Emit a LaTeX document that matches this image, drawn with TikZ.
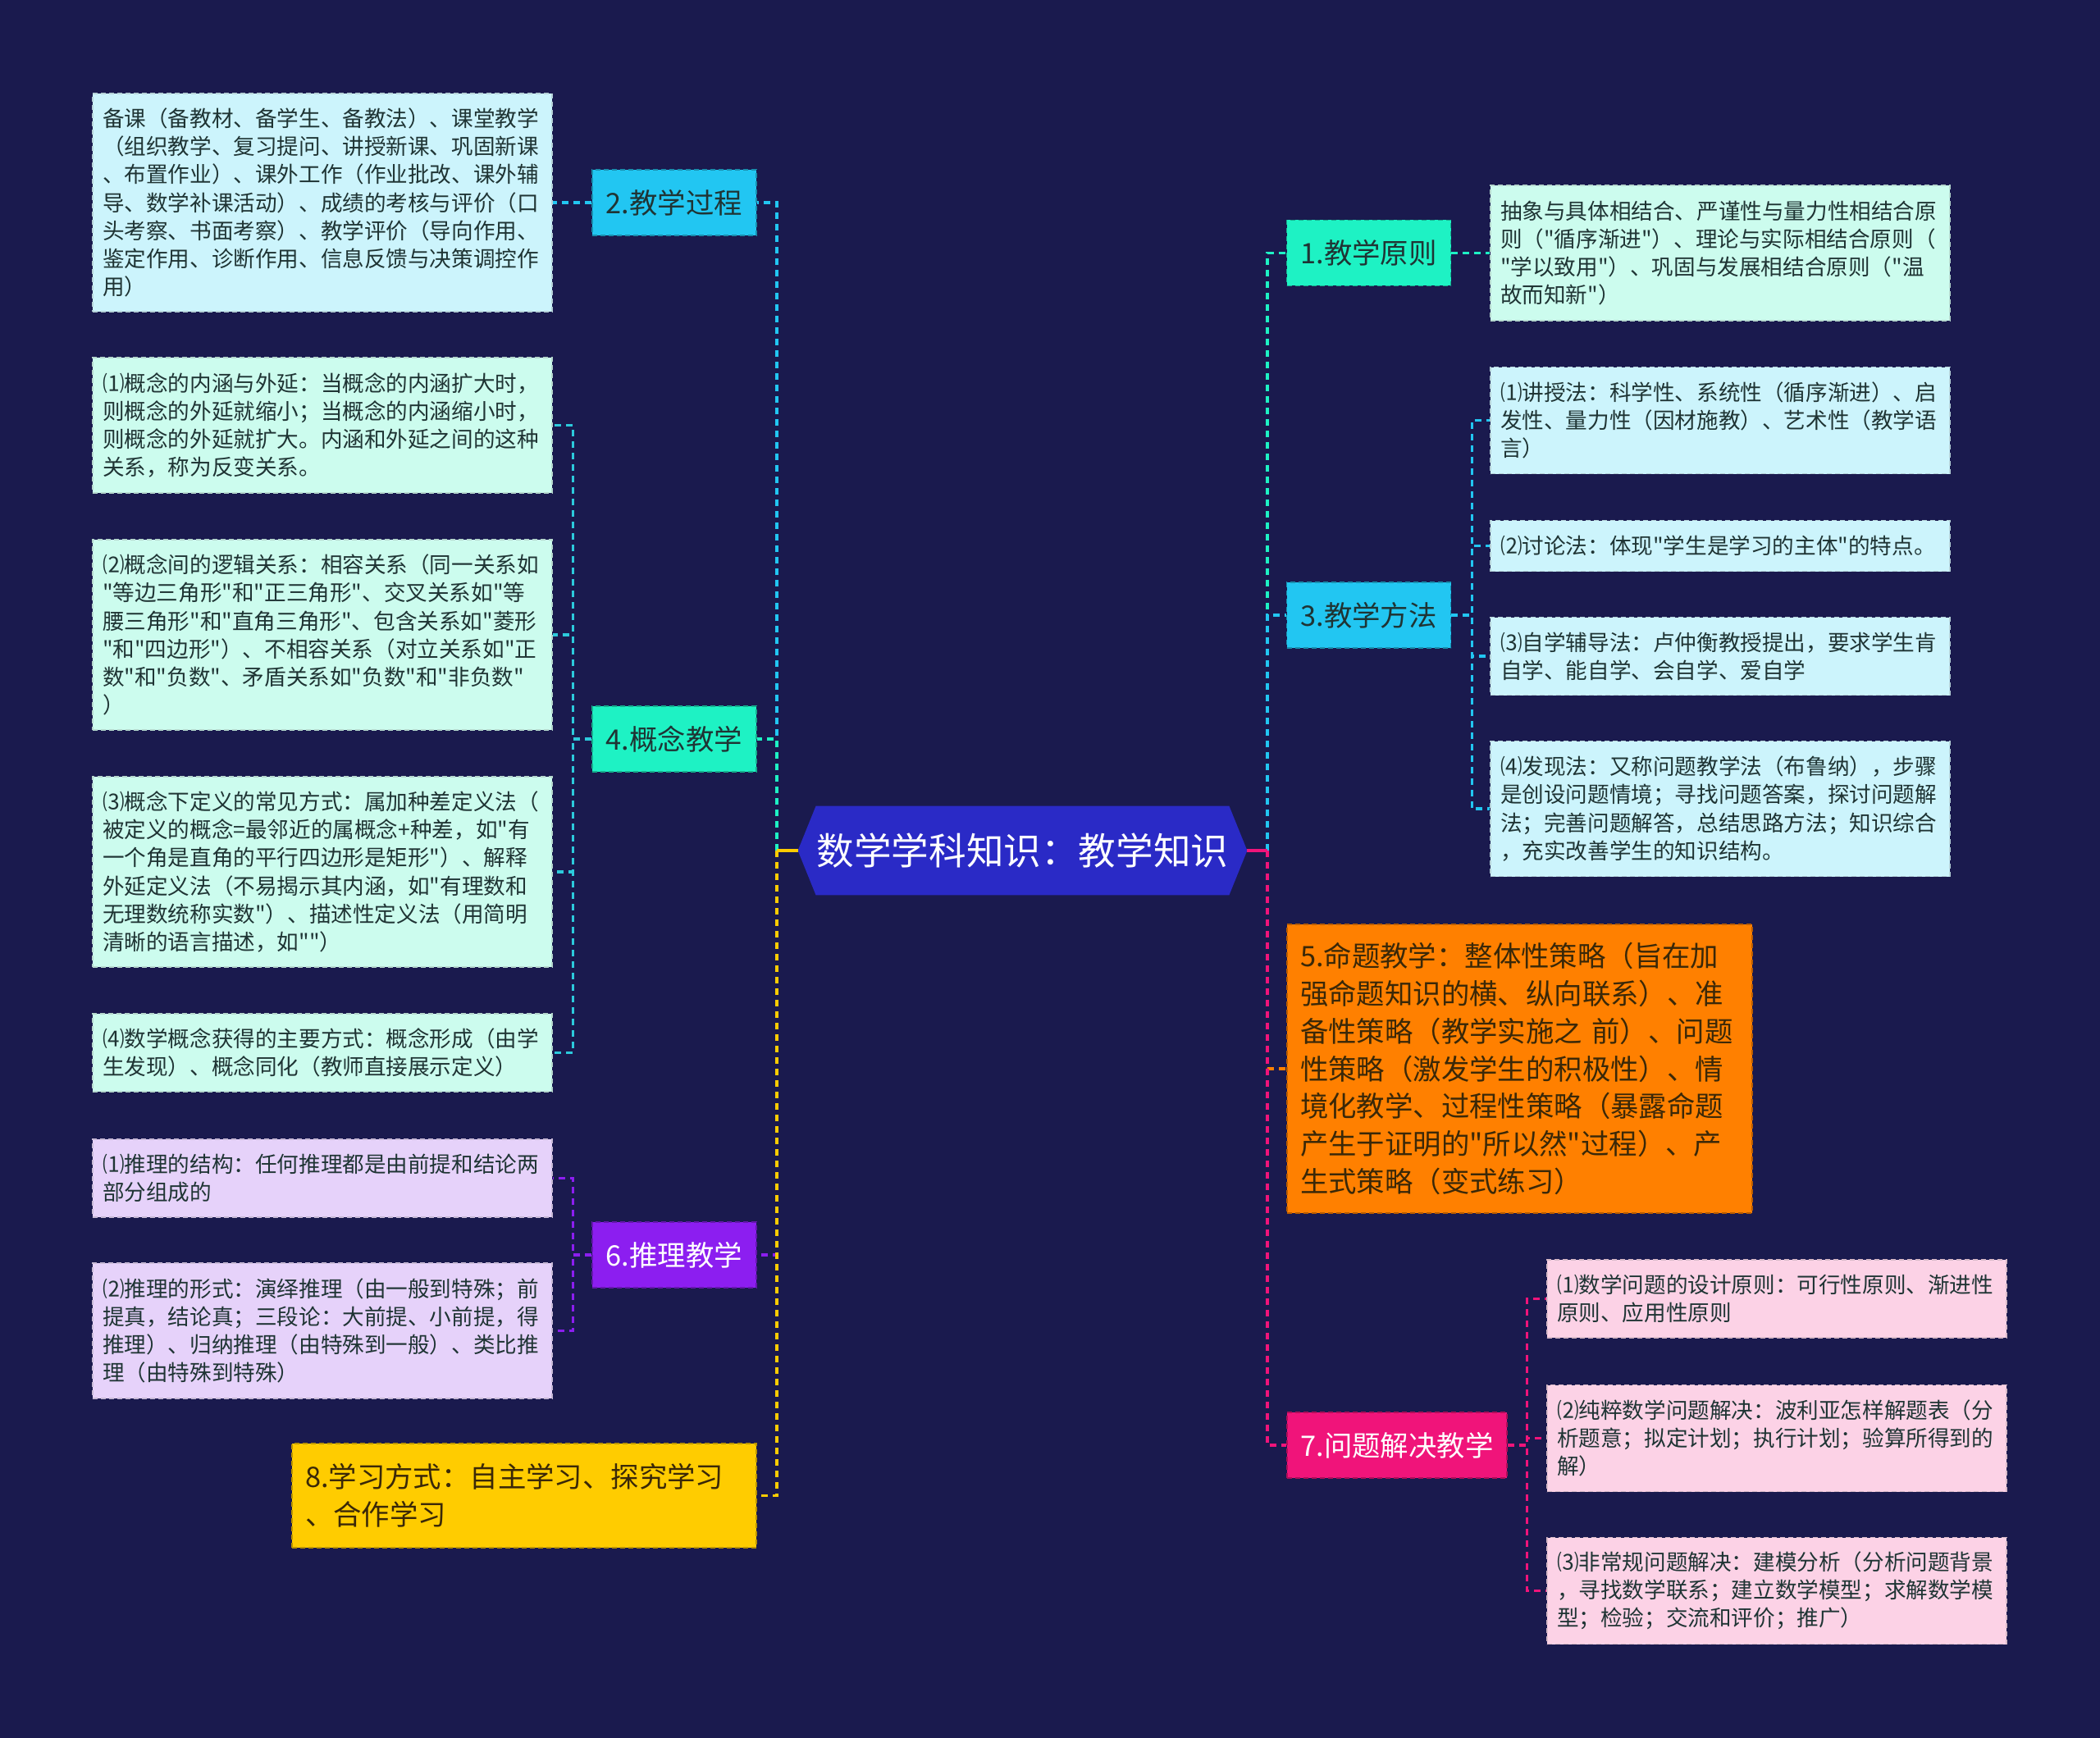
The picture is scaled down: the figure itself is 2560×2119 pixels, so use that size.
\documentclass[tikz,border=0pt]{standalone}
\usepackage{fontspec}
\setmainfont{Noto Sans CJK SC}[Ligatures=TeXOff]
\usetikzlibrary{calc}
\pgfdeclarelayer{bg}
\pgfsetlayers{bg,main}
\definecolor{bgc}{HTML}{1A1A4E}
\definecolor{rootc}{HTML}{2A2AC6}
\definecolor{cyanc}{HTML}{22C6F2}
\definecolor{aquac}{HTML}{1EF2C4}
\definecolor{purpc}{HTML}{8C1EF0}
\definecolor{yellc}{HTML}{FFCC00}
\definecolor{orngc}{HTML}{FF8000}
\definecolor{pinkc}{HTML}{F0147A}
\definecolor{lcyan}{HTML}{CCF4FC}
\definecolor{lmint}{HTML}{CCFCEE}
\definecolor{llav}{HTML}{E6D2FA}
\definecolor{lpink}{HTML}{FCD2E6}
\definecolor{kidline}{HTML}{2CCADC}
\definecolor{txtd}{HTML}{1F3434}
\definecolor{txtb}{HTML}{3A2808}
\begin{document}
\begin{tikzpicture}[x=0.5pt,y=-0.5pt,
  kid/.style={fill=#1, draw=#1!70!gray, dash pattern=on 3pt off 2pt, line width=0.8pt,
    text width=268pt, inner xsep=6pt, inner ysep=0pt, align=left, text=txtd,
    font=\fontsize{13.3}{17.1}\selectfont},
  topic/.style={fill=#1, draw=#1!72!black, dash pattern=on 3pt off 2pt, line width=0.8pt,
    minimum width=100pt, minimum height=40pt, inner sep=0pt, text=txtd,
    font=\fontsize{17.2}{22.9}\selectfont},
  conn/.style={line width=1.6pt, dash pattern=on 4pt off 3pt},
  stub/.style={line width=1.6pt}
]
\useasboundingbox (0,0) rectangle (2560,2119);

% root
\node[font=\fontsize{22.8}{27}\selectfont, text=white, minimum width=273.5pt, minimum height=54pt, inner sep=0pt] (root) at (1246.5,1037) {数学学科知识：教学知识};
\begin{pgfonlayer}{bg}
\fill[bgc] (0,0) rectangle (2560,2119);
\fill[rootc] (root.west) -- ($(root.north west)+(11pt,0)$) -- ($(root.north east)+(-11pt,0)$) -- (root.east) -- ($(root.south east)+(-11pt,0)$) -- ($(root.south west)+(11pt,0)$) -- cycle;
\end{pgfonlayer}
\coordinate (LB) at (947,1037);
\coordinate (RB) at (1545,1037);

% left topics
\node[topic=cyanc] (n2) at (822,247) {2.教学过程};
\node[topic=aquac] (n4) at (822,901) {4.概念教学};
\node[topic=purpc, text=white] (n6) at (822,1530) {6.推理教学};
\node[topic=yellc, text=txtb, minimum width=283pt, minimum height=63.5pt, text width=267pt, inner xsep=8pt, align=left] (n8) at (639,1823.5) {8.学习方式：自主学习、探究学习\\、合作学习};

% right topics
\node[topic=aquac] (n1) at (1668.5,308.5) {1.教学原则};
\node[topic=cyanc] (n3) at (1668.5,750) {3.教学方法};
\node[topic=orngc, text=txtb, minimum width=283.5pt, minimum height=176pt, text width=267.5pt, inner xsep=8pt, align=left] (n5) at (1852.5,1303) {5.命题教学：整体性策略（旨在加\\强命题知识的横、纵向联系）、准\\备性策略（教学实施之 前）、问题\\性策略（激发学生的积极性）、情\\境化教学、过程性策略（暴露命题\\产生于证明的"所以然"过程）、产\\生式策略（变式练习）};
\node[topic=pinkc, text=white, minimum width=134pt] (n7) at (1703,1762) {7.问题解决教学};

% left children
\node[kid=lcyan, minimum height=133pt] (c2) at (393,247) {备课（备教材、备学生、备教法）、课堂教学\\（组织教学、复习提问、讲授新课、巩固新课\\、布置作业）、课外工作（作业批改、课外辅\\导、数学补课活动）、成绩的考核与评价（口\\头考察、书面考察）、教学评价（导向作用、\\鉴定作用、诊断作用、信息反馈与决策调控作\\用）};
\node[kid=lmint, minimum height=82.5pt] (c41) at (393,518.5) {⑴概念的内涵与外延：当概念的内涵扩大时，\\则概念的外延就缩小；当概念的内涵缩小时，\\则概念的外延就扩大。内涵和外延之间的这种\\关系，称为反变关系。};
\node[kid=lmint, minimum height=116pt] (c42) at (393,774) {⑵概念间的逻辑关系：相容关系（同一关系如\\"等边三角形"和"正三角形"、交叉关系如"等\\腰三角形"和"直角三角形"、包含关系如"菱形\\"和"四边形"）、不相容关系（对立关系如"正\\数"和"负数"、矛盾关系如"负数"和"非负数"\\）};
\node[kid=lmint, minimum height=116pt] (c43) at (393,1063) {⑶概念下定义的常见方式：属加种差定义法（\\被定义的概念=最邻近的属概念+种差，如"有\\一个角是直角的平行四边形是矩形"）、解释\\外延定义法（不易揭示其内涵，如"有理数和\\无理数统称实数"）、描述性定义法（用简明\\清晰的语言描述，如""）};
\node[kid=lmint, minimum height=47.5pt] (c44) at (393,1283.5) {⑷数学概念获得的主要方式：概念形成（由学\\生发现）、概念同化（教师直接展示定义）};
\node[kid=llav, minimum height=47.5pt] (c61) at (393,1436.5) {⑴推理的结构：任何推理都是由前提和结论两\\部分组成的};
\node[kid=llav, minimum height=82.5pt] (c62) at (393,1622.5) {⑵推理的形式：演绎推理（由一般到特殊；前\\提真，结论真；三段论：大前提、小前提，得\\推理）、归纳推理（由特殊到一般）、类比推\\理（由特殊到特殊）};

% right children
\node[kid=lmint, minimum height=82.5pt] (c1) at (2097,308.5) {抽象与具体相结合、严谨性与量力性相结合原\\则（"循序渐进"）、理论与实际相结合原则（\\"学以致用"）、巩固与发展相结合原则（"温\\故而知新"）};
\node[kid=lcyan, minimum height=65pt] (c31) at (2097,512.5) {⑴讲授法：科学性、系统性（循序渐进）、启\\发性、量力性（因材施教）、艺术性（教学语\\言）};
\node[kid=lcyan, minimum height=31pt] (c32) at (2097,665.5) {⑵讨论法：体现"学生是学习的主体"的特点。};
\node[kid=lcyan, minimum height=47.5pt] (c33) at (2097,800) {⑶自学辅导法：卢仲衡教授提出，要求学生肯\\自学、能自学、会自学、爱自学};
\node[kid=lcyan, minimum height=82.5pt] (c34) at (2097,986) {⑷发现法：又称问题教学法（布鲁纳），步骤\\是创设问题情境；寻找问题答案，探讨问题解\\法；完善问题解答，总结思路方法；知识综合\\，充实改善学生的知识结构。};
\node[kid=lpink, minimum height=47.5pt] (c71) at (2166,1583.5) {⑴数学问题的设计原则：可行性原则、渐进性\\原则、应用性原则};
\node[kid=lpink, minimum height=65pt] (c72) at (2166,1753.5) {⑵纯粹数学问题解决：波利亚怎样解题表（分\\析题意；拟定计划；执行计划；验算所得到的\\解）};
\node[kid=lpink, minimum height=65pt] (c73) at (2166,1939.5) {⑶非常规问题解决：建模分析（分析问题背景\\，寻找数学联系；建立数学模型；求解数学模\\型；检验；交流和评价；推广）};

% root connectors, left
\draw[conn,cyanc] (LB) |- (n2.east);
\draw[conn,aquac] (LB) |- (n4.east);
\draw[conn,purpc] (LB) |- (n6.east);
\draw[conn,yellc] (LB) |- (n8.east);
\draw[stub,yellc] (root.west) -- (LB);
% root connectors, right
\draw[conn,aquac] (RB) |- (n1.west);
\draw[conn,cyanc] (RB) |- (n3.west);
\draw[conn,orngc] (RB) |- (n5.west);
\draw[conn,pinkc] (RB) |- (n7.west);
\draw[stub,pinkc] (root.east) -- (RB);

% child connectors
\draw[conn,cyanc] (n2.west) -- (n2.west -| c2.east);
\foreach \k in {c41,c42,c43,c44} \draw[conn,kidline] (n4.west) -- ++(-11.5pt,0) |- (\k.east);
\foreach \k in {c61,c62} \draw[conn,purpc] (n6.west) -- ++(-11.5pt,0) |- (\k.east);
\draw[conn,aquac] (n1.east) -- (n1.east -| c1.west);
\foreach \k in {c31,c32,c33,c34} \draw[conn,cyanc] (n3.east) -- ++(12.5pt,0) |- (\k.west);
\foreach \k in {c71,c72,c73} \draw[conn,pinkc] (n7.east) -- ++(12pt,0) |- (\k.west);
\end{tikzpicture}
\end{document}
